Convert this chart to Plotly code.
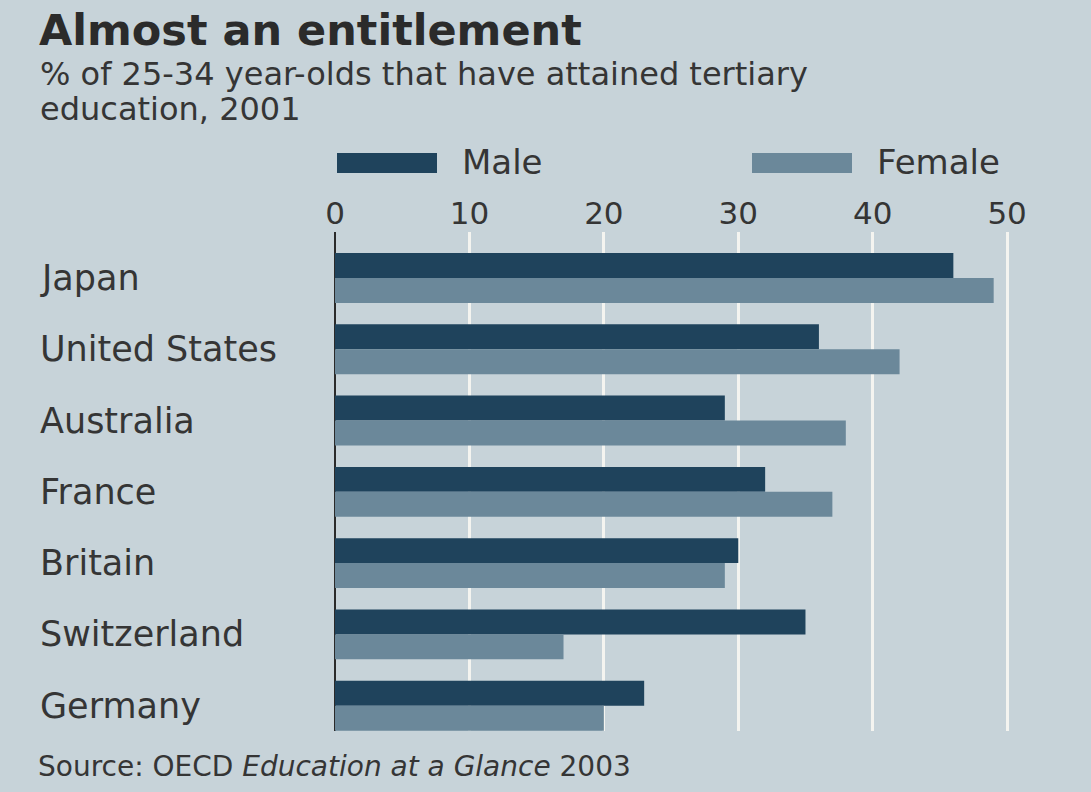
import plotly.graph_objects as go

# Data: % of 25-34 year-olds with tertiary education, 2001
countries = ["Japan", "United States", "Australia", "France", "Britain", "Switzerland", "Germany"]
male = [46, 36, 29, 32, 30, 35, 23]
female = [49, 42, 38, 37, 29, 17, 20]
x_ticks = [0, 10, 20, 30, 40, 50]

# Styling
BG = "#c7d3d9"
MALE_C = "#1f435c"
FEMALE_C = "#6b889a"
GRID_C = "#f4f4f0"
TEXT_C = "#353535"
FONT = "DejaVu Sans"

W, H = 1091, 792
L, R, T, B = 335, 57, 232, 61
plot_w = W - L - R
plot_h = H - T - B


def px_x(x):
    return (x - L) / plot_w


def px_y(y):
    return (H - B - y) / plot_h


pos = list(range(len(countries)))

fig = go.Figure()
fig.add_trace(go.Bar(y=pos, x=male, orientation="h", name="Male",
                     marker=dict(color=MALE_C, line_width=0), hoverinfo="x+name"))
fig.add_trace(go.Bar(y=pos, x=female, orientation="h", name="Female",
                     marker=dict(color=FEMALE_C, line_width=0), hoverinfo="x+name"))

fig.update_layout(
    width=W, height=H,
    margin=dict(l=L, r=R, t=T, b=B, pad=0),
    paper_bgcolor=BG, plot_bgcolor=BG,
    barmode="group", bargap=0.30, bargroupgap=0,
    showlegend=False,
    font=dict(family=FONT, color=TEXT_C),
)

fig.update_xaxes(
    range=[0, 52], side="top", tickvals=x_ticks, ticks="",
    tickfont=dict(family=FONT, size=31, color=TEXT_C),
    showgrid=True, gridcolor=GRID_C, gridwidth=3,
    zeroline=True, zerolinecolor="#2a2a2a", zerolinewidth=2,
    showline=False, ticklabelstandoff=1,
)
fig.update_yaxes(
    range=[len(countries) - 1 + 0.355, -0.645],
    showticklabels=False, showgrid=False, zeroline=False, showline=False,
)

annotations = []
# Country labels, left aligned
for i, c in enumerate(countries):
    annotations.append(dict(text=c, xref="paper", yref="y", x=px_x(38), y=i,
                            xanchor="left", yanchor="middle", showarrow=False,
                            font=dict(family=FONT, size=35, color=TEXT_C)))

# Title and subtitle
annotations.append(dict(text="<b>Almost an entitlement</b>", xref="paper", yref="paper",
                        x=px_x(37), y=px_y(30), xanchor="left", yanchor="middle",
                        showarrow=False, font=dict(family=FONT, size=43, color="#2b2b2b")))
annotations.append(dict(text="% of 25-34 year-olds that have attained tertiary", xref="paper",
                        yref="paper", x=px_x(38), y=px_y(74), xanchor="left", yanchor="middle",
                        showarrow=False, font=dict(family=FONT, size=32, color=TEXT_C)))
annotations.append(dict(text="education, 2001", xref="paper", yref="paper",
                        x=px_x(38), y=px_y(109), xanchor="left", yanchor="middle",
                        showarrow=False, font=dict(family=FONT, size=32, color=TEXT_C)))

# Legend labels
annotations.append(dict(text="Male", xref="paper", yref="paper", x=px_x(460), y=px_y(162),
                        xanchor="left", yanchor="middle", showarrow=False,
                        font=dict(family=FONT, size=34, color=TEXT_C)))
annotations.append(dict(text="Female", xref="paper", yref="paper", x=px_x(875), y=px_y(162),
                        xanchor="left", yanchor="middle", showarrow=False,
                        font=dict(family=FONT, size=34, color=TEXT_C)))

# Source note
annotations.append(dict(text="Source: OECD <i>Education at a Glance</i> 2003", xref="paper",
                        yref="paper", x=px_x(36), y=px_y(766), xanchor="left", yanchor="middle",
                        showarrow=False, font=dict(family=FONT, size=28, color=TEXT_C)))

fig.update_layout(annotations=annotations)

# Legend swatches
shapes = [
    dict(type="rect", xref="paper", yref="paper", x0=px_x(337), x1=px_x(437),
         y0=px_y(173), y1=px_y(153), fillcolor=MALE_C, line_width=0),
    dict(type="rect", xref="paper", yref="paper", x0=px_x(752), x1=px_x(852),
         y0=px_y(173), y1=px_y(153), fillcolor=FEMALE_C, line_width=0),
]
fig.update_layout(shapes=shapes)

fig.write_html("out.html")
